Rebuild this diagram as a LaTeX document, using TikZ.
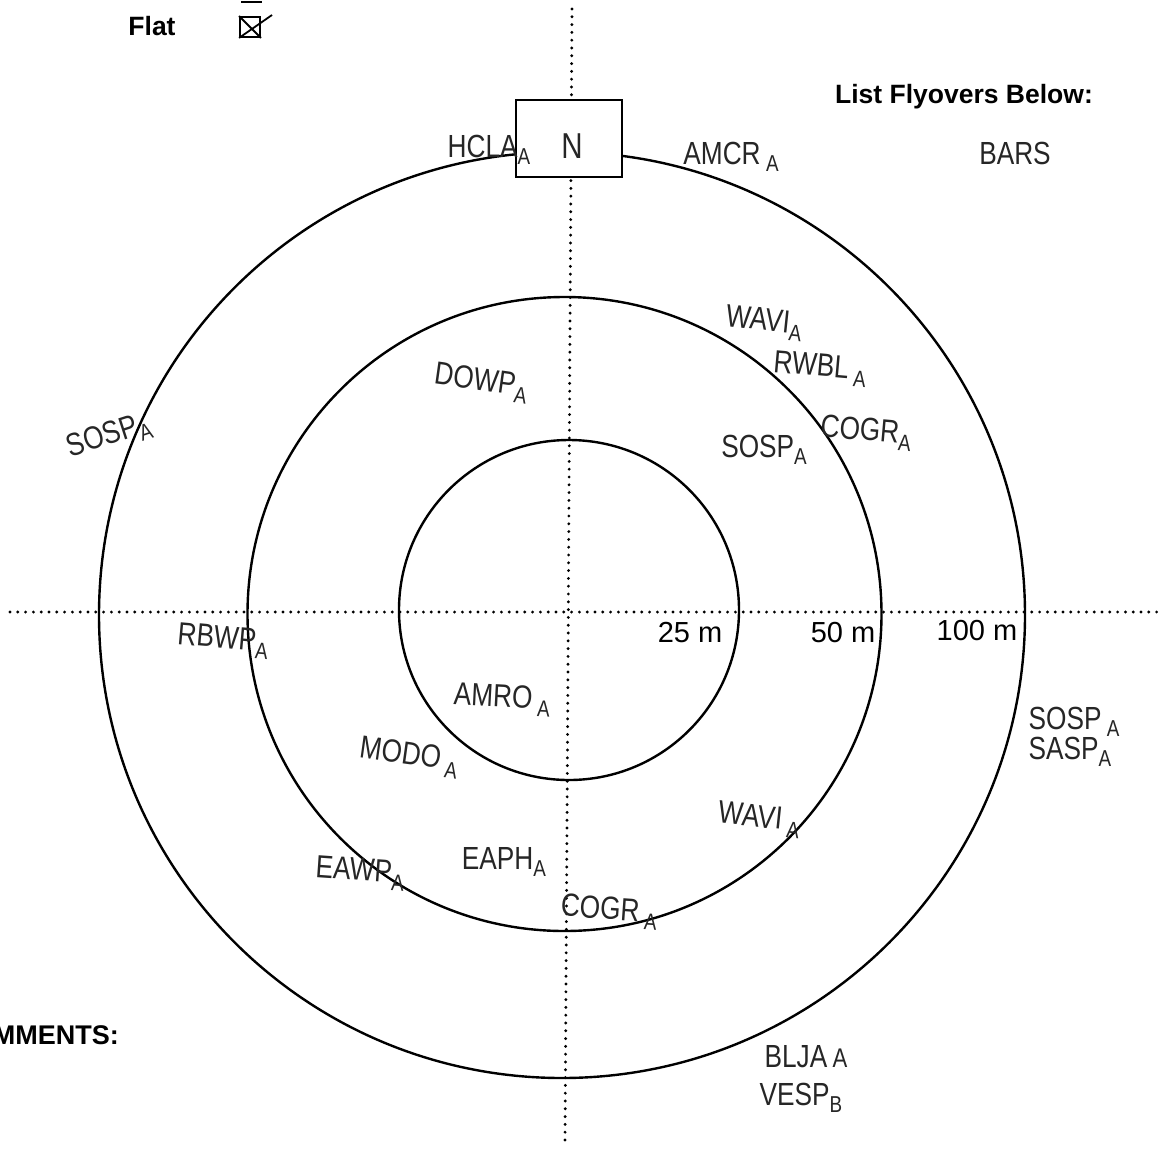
\documentclass[tikz,border=0pt]{standalone}
\usepackage{fontspec}
\setmainfont{Liberation Sans}
\newfontfamily\hand{Liberation Sans}[FakeStretch=0.82]
\newcommand\sbx[1]{\raisebox{-0.45ex}{\fontsize{23}{23}\selectfont #1}}
\begin{document}
\begin{tikzpicture}[x=1pt,y=-1pt,
  ring/.style={draw=black,line width=2.4pt,circle,inner sep=0pt,minimum size=#1},
  axis/.style={line width=3.2pt,dash pattern=on 0pt off 7.8pt,line cap=round},
  hw/.style={font=\hand\fontsize{32}{34}\selectfont,inner sep=0pt,text=black!85},
  print/.style={font=\fontsize{29}{31}\selectfont,inner sep=0pt},
  bold/.style={font=\bfseries\fontsize{26.5}{28}\selectfont,inner sep=0pt}]
\useasboundingbox (0,0) rectangle (1159,1152);
% rings
\node[ring=926pt] (outer) at (562,615) {};
\node[ring=634pt] (middle) at (564.5,614) {};
\node[ring=340pt] (inner) at (569,610) {};
% axes
\coordinate (west) at (10,612);
\coordinate (east) at (1159,612);
\coordinate (north) at (572,9);
\coordinate (south) at (565,1144);
\draw[axis] (west) -- (east);
\draw[axis] (north) -- (south);
% north box
\node[draw,line width=2pt,fill=white,minimum width=106pt,minimum height=77pt,inner sep=0pt] (nbox) at (569,138.5) {};
\node[hw,font=\hand\fontsize{36}{36}\selectfont] (nlabel) at (572,146) {N};
% header
\node[bold] (flat) at (152,26) {Flat};
\node[draw,line width=1.8pt,minimum size=20pt,inner sep=0pt] (chk) at (250,27) {};
\draw[line width=1.8pt] (chk.north west) -- (chk.south east) (chk.south west) -- (272,15);
\draw[line width=2pt] (241,1.5) -- (262,1.5);
\node[bold] (listfly) at (964,97) {List Flyovers Below:};
\node[bold,anchor=east,font=\bfseries\fontsize{27}{28}\selectfont] (comm) at (119,1035) {MMENTS:};
% distance labels
\node[print] (d25) at (690,633) {25 m};
\node[print] (d50) at (843,633) {50 m};
\node[print] (d100) at (977,631) {100 m};
% handwritten labels
\node[hw] (bars) at (1015,153) {BARS};
\node[hw] (hcla) at (489,150) {HCLA\sbx{A}};
\node[hw] (amcr) at (731,157) {AMCR\,\sbx{A}};
\node[hw,rotate=-6] (wavi1) at (764,323) {WAVI\sbx{A}};
\node[hw,rotate=-5] (rwbl) at (820,369) {RWBL\,\sbx{A}};
\node[hw,rotate=-5] (cogr1) at (866,433) {COGR\sbx{A}};
\node[hw] (sosp1) at (764,450) {SOSP\sbx{A}};
\node[hw,rotate=-8] (dowp) at (481,383) {DOWP\sbx{A}};
\node[hw,rotate=18] (sosp2) at (109,437) {SOSP\sbx{A}};
\node[hw,rotate=-5] (rbwp) at (223,641) {RBWP\sbx{A}};
\node[hw,rotate=-3] (amro) at (502,700) {AMRO\,\sbx{A}};
\node[hw,rotate=-8] (modo) at (409,757) {MODO\,\sbx{A}};
\node[hw,rotate=-6] (wavi2) at (759,820) {WAVI\,\sbx{A}};
\node[hw,rotate=-4] (eawp) at (360,873) {EAWP\sbx{A}};
\node[hw] (eaph) at (504,862) {EAPH\sbx{A}};
\node[hw,rotate=-4] (cogr2) at (609,912) {COGR\,\sbx{A}};
\node[hw] (sosp3) at (1074,722) {SOSP\,\sbx{A}};
\node[hw] (sasp) at (1070,752) {SASP\sbx{A}};
\node[hw] (blja) at (806,1057) {BLJA\,{\fontsize{27}{27}\selectfont A}};
\node[hw] (vesp) at (801,1098) {VESP\sbx{B}};
\end{tikzpicture}
\end{document}
